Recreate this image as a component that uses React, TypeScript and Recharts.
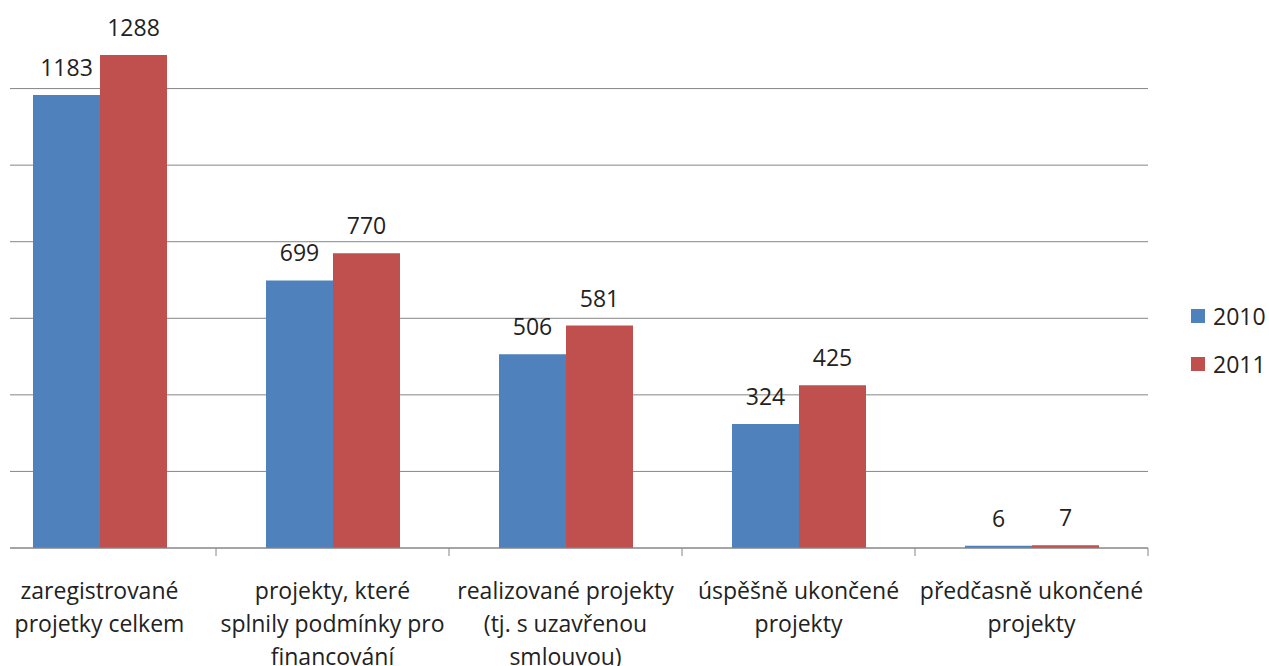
import { Bar, BarChart, CartesianGrid, LabelList, Legend, XAxis, YAxis } from 'recharts';

const categoryLines: string[][] = [
  ['zaregistrované', 'projetky celkem'],
  ['projekty, které', 'splnily podmínky pro', 'financování'],
  ['realizované projekty', '(tj. s uzavřenou', 'smlouvou)'],
  ['úspěšně ukončené', 'projekty'],
  ['předčasně ukončené', 'projekty'],
];
const values2010 = [1183, 699, 506, 324, 6];
const values2011 = [1288, 770, 581, 425, 7];
const yTicks = [0, 200, 400, 600, 800, 1000, 1200];

const data = categoryLines.map((lines, i) => ({
  name: lines.join(' '),
  y2010: values2010[i],
  y2011: values2011[i],
}));

const FONT = '"Open Sans", sans-serif';
const TEXT = '#222';
const GRID = '#868686';
const BLUE = '#4F81BD';
const RED = '#C0504D';
const BAND = 233;

function CategoryTick({ x, y, payload }: any) {
  const lines = categoryLines[payload.index] ?? [];
  return (
    <g>
      <line x1={x + BAND / 2} x2={x + BAND / 2} y1={y - 8} y2={y} stroke={GRID} />
      <text textAnchor="middle" fontFamily={FONT} fontSize={23} fill={TEXT}>
        {lines.map((l, i) => (
          <tspan key={i} x={x} y={y + 43 + 33 * i}>
            {l}
          </tspan>
        ))}
      </text>
    </g>
  );
}

function LegendBox() {
  const items = [
    { label: '2010', color: BLUE },
    { label: '2011', color: RED },
  ];
  return (
    <svg width={80} height={90} style={{ overflow: 'visible' }}>
      {items.map((it, i) => (
        <g key={it.label}>
          <rect x={0} y={9 + 48 * i} width={14} height={14} fill={it.color} />
          <text x={22} y={25 + 48 * i} fontFamily={FONT} fontSize={23} fill={TEXT}>
            {it.label}
          </text>
        </g>
      ))}
    </svg>
  );
}

export default function App() {
  return (
    <div style={{ position: 'absolute', left: 10, top: 0, width: 1259, height: 666, overflow: 'hidden' }}>
      <div style={{ position: 'absolute', left: -47, top: 0 }}>
        <BarChart
          width={1306}
          height={666}
          data={data}
          margin={{ top: 12, right: 121, bottom: 8, left: 20 }}
          barCategoryGap={50}
          barGap={0}
        >
          <CartesianGrid vertical={false} stroke={GRID} horizontalValues={yTicks} />
          <XAxis
            dataKey="name"
            height={110}
            tickSize={8}
            tickMargin={0}
            tickLine={false}
            axisLine={{ stroke: GRID }}
            interval={0}
            tick={<CategoryTick />}
          />
          <YAxis hide domain={[0, 1400]} ticks={yTicks} />
          <Legend
            content={<LegendBox />}
            wrapperStyle={{ position: 'absolute', left: 1228, top: 300, width: 0, height: 0, overflow: 'visible' }}
          />
          <Bar dataKey="y2010" fill={BLUE} isAnimationActive={false}>
            <LabelList dataKey="y2010" position="top" offset={19} fontFamily={FONT} fontSize={23} fill={TEXT} />
          </Bar>
          <Bar dataKey="y2011" fill={RED} isAnimationActive={false}>
            <LabelList dataKey="y2011" position="top" offset={19} fontFamily={FONT} fontSize={23} fill={TEXT} />
          </Bar>
        </BarChart>
      </div>
    </div>
  );
}
